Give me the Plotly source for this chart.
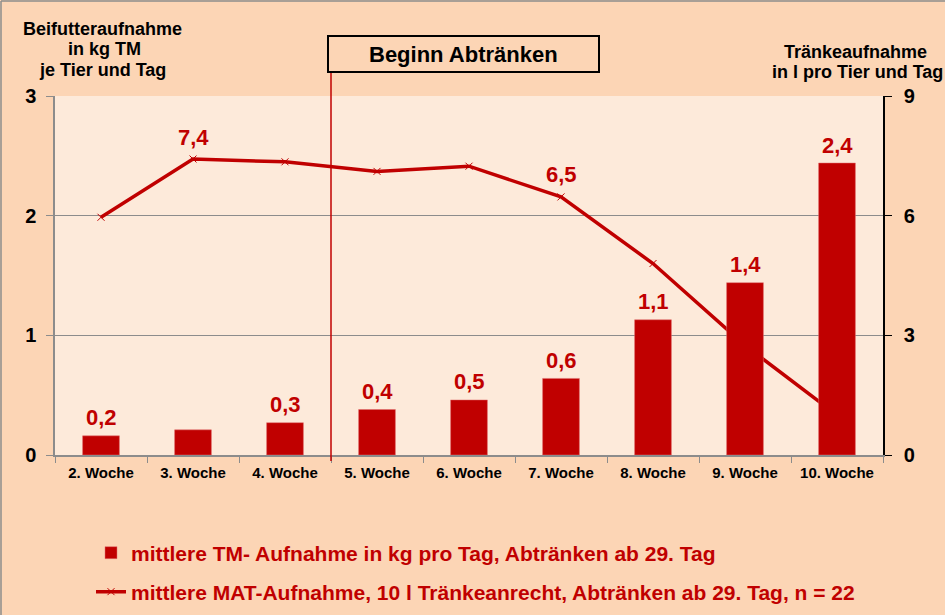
import plotly.graph_objects as go

# ---------------- data ----------------
weeks = ["2. Woche", "3. Woche", "4. Woche", "5. Woche", "6. Woche",
         "7. Woche", "8. Woche", "9. Woche", "10. Woche"]
tm_kg = [0.16, 0.21, 0.27, 0.38, 0.46, 0.64, 1.13, 1.44, 2.44]      # Beifutter kg TM
mat_l = [5.96, 7.42, 7.35, 7.11, 7.24, 6.47, 4.80, 2.75, 1.00]      # MAT l
bar_label_idx = [0, 2, 3, 4, 5, 6, 7, 8]
line_label_idx = [1, 5]
weaning_start_idx = 3
bar_name = "mittlere TM- Aufnahme in kg pro Tag, Abtränken ab 29. Tag"
line_name = "mittlere MAT-Aufnahme, 10 l Tränkeanrecht, Abtränken ab 29. Tag, n = 22"
left_title = ["Beifutteraufnahme", "in kg TM", "je Tier und Tag"]
right_title = ["Tränkeaufnahme", "in l pro Tier und Tag"]
box_text = "Beginn Abtränken"

# ---------------- style ----------------
RED = "#C00000"
PAPER = "#FCD5B5"
PLOT = "#FDEADA"
GRID = "#8C8C8C"
FONT = "Liberation Sans, Arial, sans-serif"
W, H = 945, 615
L, R, T, B = 55, 62, 96, 160
PW, PH = W - L - R, H - T - B


def px(x):
    return (x - L) / PW


def py(y):
    return (H - B - y) / PH


def fmt(v):
    return f"{v:.1f}".replace(".", ",")


fig = go.Figure()
# line first on the primary (right) axis so that bars overlay it
fig.add_trace(go.Scatter(
    x=weeks, y=mat_l, name=line_name, yaxis="y", mode="lines+markers",
    line=dict(color=RED, width=3.5),
    marker=dict(symbol="x-thin", size=7, line=dict(color=RED, width=1)),
    legend="legend2", cliponaxis=False))
fig.add_trace(go.Bar(
    x=weeks, y=tm_kg, name=bar_name, yaxis="y2",
    marker=dict(color=RED, line=dict(color="#E07070", width=0.5)),
    legend="legend"))

annotations = []
for i in bar_label_idx:
    annotations.append(dict(x=weeks[i], y=tm_kg[i], xref="x", yref="y2",
                            text=fmt(tm_kg[i]), showarrow=False,
                            yanchor="middle", yshift=18,
                            font=dict(family=FONT, size=22, color=RED, weight="bold")))
for i in line_label_idx:
    annotations.append(dict(x=weeks[i], y=mat_l[i], xref="x", yref="y",
                            text=fmt(mat_l[i]), showarrow=False,
                            yanchor="middle", yshift=22,
                            font=dict(family=FONT, size=22, color=RED, weight="bold")))
# axis titles
for txt, (cx, cy) in zip(left_title, [(102, 29), (104, 49), (102, 70)]):
    annotations.append(dict(x=px(cx), y=py(cy), xref="paper", yref="paper",
                            text=txt, showarrow=False, xanchor="center", yanchor="middle",
                            font=dict(family=FONT, size=18, color="black", weight="bold")))
for txt, (cx, cy) in zip(right_title, [(855, 52), (857, 72)]):
    annotations.append(dict(x=px(cx), y=py(cy), xref="paper", yref="paper",
                            text=txt, showarrow=False, xanchor="center", yanchor="middle",
                            font=dict(family=FONT, size=18, color="black", weight="bold")))
# box text
annotations.append(dict(x=px(463.5), y=py(54), xref="paper", yref="paper",
                        text=box_text, showarrow=False, xanchor="center", yanchor="middle",
                        font=dict(family=FONT, size=22, color="black", weight="bold")))

shapes = [
    # weaning start vertical line
    dict(type="line", xref="x", yref="paper",
         x0=weaning_start_idx - 0.5, x1=weaning_start_idx - 0.5,
         y0=py(461), y1=py(72), line=dict(color=RED, width=1.5), layer="above"),
    # box
    dict(type="rect", xref="paper", yref="paper", x0=px(328), x1=px(599),
         y0=py(72), y1=py(36), line=dict(color="black", width=2),
         fillcolor=PAPER, layer="above"),
    # outer border (top, left)
    dict(type="line", xref="paper", yref="paper", x0=px(1), x1=px(W),
         y0=py(1), y1=py(1), line=dict(color=GRID, width=1.5)),
    dict(type="line", xref="paper", yref="paper", x0=px(1), x1=px(1),
         y0=py(1), y1=py(H), line=dict(color=GRID, width=1.5)),
]

tickfont = dict(family=FONT, size=20, color="black", weight="bold")
legfont = dict(family=FONT, size=21, color=RED, weight="bold")

fig.update_layout(
    width=W, height=H,
    margin=dict(l=L, r=R, t=T, b=B, autoexpand=False),
    paper_bgcolor=PAPER, plot_bgcolor=PLOT,
    bargap=0.6,
    showlegend=True,
    xaxis=dict(type="category", tickson="boundaries", ticks="outside", ticklen=6,
               tickcolor=GRID, showline=True, linecolor=GRID, linewidth=1.5,
               showgrid=False, automargin=False, ticklabelstandoff=3,
               tickfont=dict(family=FONT, size=15, color="black", weight="bold")),
    yaxis=dict(side="right", range=[0, 9], dtick=3, showgrid=True, gridcolor=GRID,
               gridwidth=1, zeroline=False, showline=True, linecolor="black",
               linewidth=1.5, ticks="outside", ticklen=7, tickcolor="black",
               ticklabelstandoff=8, tickfont=tickfont, automargin=False),
    yaxis2=dict(side="left", overlaying="y", range=[0, 3], dtick=1, showgrid=False,
                zeroline=False, showline=True, linecolor=GRID, linewidth=1.5,
                ticks="outside", ticklen=7, tickcolor=GRID, ticklabelstandoff=6,
                tickfont=tickfont, automargin=False),
    legend=dict(xref="container", yref="container", x=91 / W, y=1 - 553 / H,
                xanchor="left", yanchor="middle",
                bgcolor="rgba(0,0,0,0)", font=legfont),
    legend2=dict(xref="container", yref="container", x=91 / W, y=1 - 592 / H,
                 xanchor="left", yanchor="middle",
                 bgcolor="rgba(0,0,0,0)", font=legfont),
    annotations=annotations,
    shapes=shapes,
)

fig.write_html("out.html", config={"displayModeBar": False},
               post_script="document.body.style.margin='0';document.body.style.overflow='hidden';")
